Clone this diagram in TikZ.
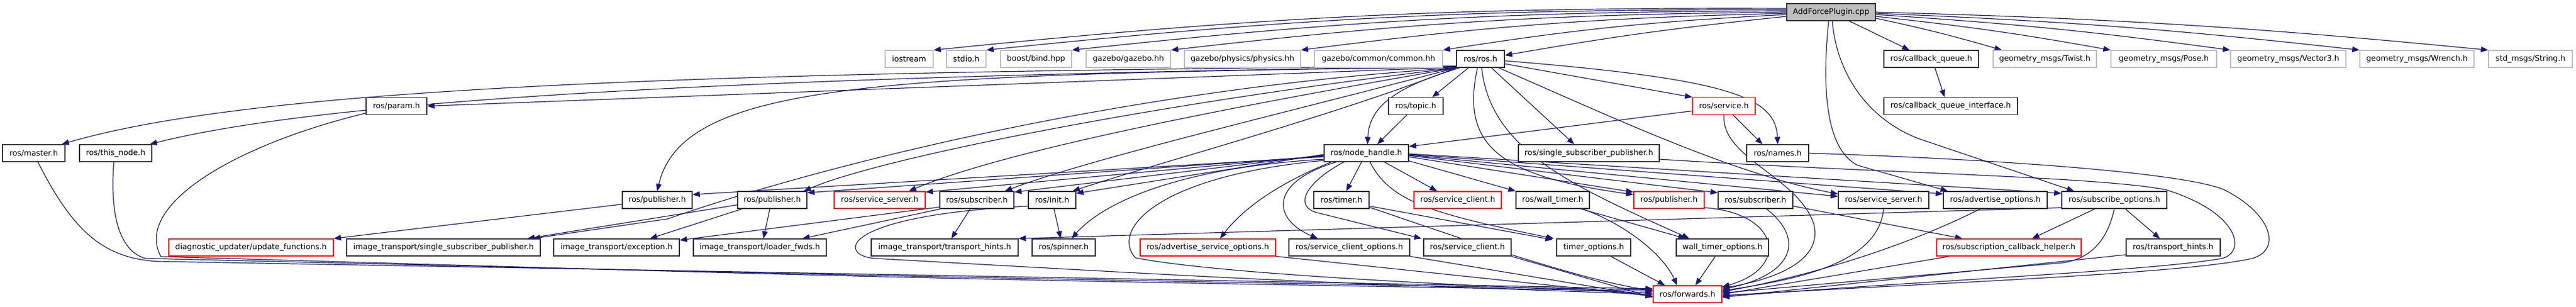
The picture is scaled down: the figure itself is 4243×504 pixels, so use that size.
\documentclass[tikz,border=0pt]{standalone}
\usepackage{fontspec}
\setmainfont{DejaVu Sans}
\usetikzlibrary{arrows.meta,calc,backgrounds}
\definecolor{edgecol}{HTML}{191970}
\begin{document}
\begin{tikzpicture}[x=0.5pt,y=-0.5pt,
  box/.style={draw=black!80, line width=0.65pt, fill=white, minimum height=14pt, inner sep=0pt, font=\fontsize{6.4pt}{7.5pt}\selectfont},
  redbox/.style={box, draw=red},
  graybox/.style={box, draw=black!25},
  mainbox/.style={box, fill=black!25, draw=black!80},
  wd/.style={minimum width=#1*0.5pt},
  dep/.style={draw=edgecol, line width=0.6pt, -{Triangle[length=6pt,width=4.6pt]}}]
\useasboundingbox (0,0) rectangle (4243,504);
% row 0
\node[mainbox,wd=146] (A) at (3016,20) {AddForcePlugin.cpp};
% row 1
\node[graybox,wd=79] (ios) at (1497.5,97) {iostream};
\node[graybox,wd=65] (stdio) at (1591.5,97) {stdio.h};
\node[graybox,wd=117] (boost) at (1706.5,97) {boost/bind.hpp};
\node[graybox,wd=139] (gzb) at (1858.5,97) {gazebo/gazebo.hh};
\node[graybox,wd=191] (phys) at (2046.5,97) {gazebo/physics/physics.hh};
\node[graybox,wd=211] (comm) at (2270.5,97) {gazebo/common/common.hh};
\node[box,wd=79] (rosh) at (2438.5,97) {ros/ros.h};
\node[box,wd=156] (cbq) at (3181,97) {ros/callback\_queue.h};
\node[graybox,wd=170] (twist) at (3368,97) {geometry\_msgs/Twist.h};
\node[graybox,wd=174] (pose) at (3564,97) {geometry\_msgs/Pose.h};
\node[graybox,wd=190] (vec) at (3769,97) {geometry\_msgs/Vector3.h};
\node[graybox,wd=188] (wrench) at (3981,97) {geometry\_msgs/Wrench.h};
\node[graybox,wd=138] (str) at (4168,97) {std\_msgs/String.h};
% row 2
\node[box,wd=100] (param) at (653,174.5) {ros/param.h};
\node[box,wd=90] (topic) at (2332,174.5) {ros/topic.h};
\node[redbox,wd=103] (srv) at (2839.5,174.5) {ros/service.h};
\node[box,wd=220] (cbqi) at (3213,174.5) {ros/callback\_queue\_interface.h};
% row 3
\node[box,wd=103] (master) at (55.5,252) {ros/master.h};
\node[box,wd=119] (thisn) at (190.5,252) {ros/this\_node.h};
\node[box,wd=139] (nh) at (2250.5,252) {ros/node\_handle.h};
\node[box,wd=232] (ssp) at (2617,252) {ros/single\_subscriber\_publisher.h};
\node[box,wd=102] (names) at (2928,252) {ros/names.h};
% row 4
\node[box,wd=115] (pubA) at (1082.5,329) {ros/publisher.h};
\node[box,wd=114] (pubB) at (1272,329) {ros/publisher.h};
\node[redbox,wd=150] (ssrvA) at (1449,329) {ros/service\_server.h};
\node[box,wd=122] (subA) at (1609,329) {ros/subscriber.h};
\node[box,wd=78] (init) at (1733,329) {ros/init.h};
\node[box,wd=91] (timer) at (2209.5,329) {ros/timer.h};
\node[redbox,wd=144] (sclA) at (2401,329) {ros/service\_client.h};
\node[box,wd=121] (wtimer) at (2557.5,329) {ros/wall\_timer.h};
\node[redbox,wd=116] (pubC) at (2749,329) {ros/publisher.h};
\node[box,wd=123] (subB) at (2891.5,329) {ros/subscriber.h};
\node[box,wd=149] (ssrvB) at (3102.5,329) {ros/service\_server.h};
\node[box,wd=171] (advopt) at (3286.5,329) {ros/advertise\_options.h};
\node[box,wd=173] (subopt) at (3482.5,329) {ros/subscribe\_options.h};
% row 5
\node[redbox,wd=271] (diag) at (413.5,407) {diagnostic\_updater/update\_functions.h};
\node[box,wd=319] (itssp) at (730.5,407) {image\_transport/single\_subscriber\_publisher.h};
\node[box,wd=207] (itexc) at (1015.5,407) {image\_transport/exception.h};
\node[box,wd=219] (itload) at (1251.5,407) {image\_transport/loader\_fwds.h};
\node[box,wd=242] (itth) at (1556,407) {image\_transport/transport\_hints.h};
\node[box,wd=104] (spinner) at (1752,407) {ros/spinner.h};
\node[redbox,wd=223] (advsrv) at (1989.5,407) {ros/advertise\_service\_options.h};
\node[box,wd=199] (scopt) at (2222.5,407) {ros/service\_client\_options.h};
\node[box,wd=144] (sclB) at (2417,407) {ros/service\_client.h};
\node[box,wd=122] (topt) at (2625,407) {timer\_options.h};
\node[box,wd=152] (wtopt) at (2837,407) {wall\_timer\_options.h};
\node[redbox,wd=238] (sch) at (3309,407) {ros/subscription\_callback\_helper.h};
\node[box,wd=155] (th) at (3579.5,407) {ros/transport\_hints.h};
% row 6
\node[redbox,wd=113] (fwd) at (2779.5,484) {ros/forwards.h};

\begin{scope}[on background layer]
% AddForcePlugin.cpp
\draw[dep] ($(A.west)+(0,-6)$) to[bend right=3] (ios.north east);
\draw[dep] ($(A.west)+(0,-4)$) to[bend right=3] (stdio.north east);
\draw[dep] ($(A.west)+(0,-2)$) to[bend right=3] (boost.north east);
\draw[dep] (A.west) to[bend right=3] (gzb.north east);
\draw[dep] ($(A.west)+(0,2)$) to[bend right=3] (phys.north east);
\draw[dep] ($(A.west)+(0,4)$) to[bend right=3] (comm.north east);
\draw[dep] ($(A.west)+(0,7)$) to[bend right=2] ($(rosh.east)+(0,-6)$);
\draw[dep] ($(A.south)+(30,0)$) -- ($(cbq.north)+(-36,0)$);
\draw[dep] ($(A.east)+(0,10)$) to[bend left=2] ($(twist.north west)+(15,0)$);
\draw[dep] ($(A.east)+(0,7)$) to[bend left=2] (pose.north west);
\draw[dep] ($(A.east)+(0,4)$) to[bend left=2] (vec.north west);
\draw[dep] ($(A.east)+(0,2)$) to[bend left=2] (wrench.north west);
\draw[dep] (A.east) to[bend left=2] (str.north west);
\draw[dep] ($(A.south)+(2,0)$) .. controls (3025,120) and (3075,195) .. (3160,228) -- ($(subopt.north west)+(21,0)$);
\draw[dep] ($(A.south)+(-4,0)$) .. controls (2998,170) and (3015,250) .. (3060,272) -- ($(advopt.north west)+(8,0)$);
% ros/ros.h
\draw[dep] ($(rosh.south west)+(0,-1)$) -- (param.east);
\draw[dep] ($(rosh.south west)+(0,-3)$) .. controls (1300,118) and (450,135) .. ($(master.north east)+(-6,0)$);
\draw[dep] ($(rosh.south west)+(0,-2)$) .. controls (1300,124) and (550,160) .. ($(thisn.north east)+(-4,0)$);
\draw[dep] ($(rosh.south west)+(0,-1)$) .. controls (1450,122) and (1125,135) .. (pubA.north);
\draw[dep] (rosh.south west) .. controls (1800,150) and (1300,290) .. (1100,360) -- ($(itssp.north east)+(-13,0)$);
\draw[dep] (rosh.south west) .. controls (1900,170) and (1450,260) .. ($(pubB.north east)+(-6,0)$);
\draw[dep] (rosh.south west) .. controls (2000,180) and (1650,250) .. ($(ssrvA.north)+(48,0)$);
\draw[dep] (rosh.south west) .. controls (2100,190) and (1800,260) .. ($(subA.north)+(46,0)$);
\draw[dep] (rosh.south west) .. controls (2200,190) and (1900,270) .. ($(init.north east)+(-6,0)$);
\draw[dep] ($(rosh.south west)+(6,0)$) .. controls (2310,140) and (2255,170) .. ($(nh.north)+(2,0)$);
\draw[dep] ($(rosh.south)+(-20,0)$) -- ($(topic.north)+(27,0)$);
\draw[dep] ($(rosh.east)+(0,8)$) -- (srv.north west);
\draw[dep] ($(rosh.east)+(0,3)$) .. controls (2850,130) and (2925,160) .. (names.north);
\draw[dep] ($(rosh.south east)+(-22,0)$) -- ($(ssp.north)+(-24,0)$);
\draw[dep] ($(rosh.south east)+(-10,0)$) .. controls (2650,190) and (2850,285) .. ($(ssrvB.west)+(0,-10)$);
\draw[dep] ($(rosh.south)+(-5,0)$) .. controls (2405,240) and (2470,290) .. ($(pubC.west)+(0,-9)$);
\draw[dep] ($(rosh.south)+(2,0)$) .. controls (2455,250) and (2600,310) .. ($(wtopt.north west)+(22,0)$);
% ros/node_handle.h
\draw[dep] ($(nh.west)+(0,6)$) -- ($(pubA.east)+(0,-9)$);
\draw[dep] ($(nh.west)+(0,5)$) -- ($(pubB.east)+(0,-12)$);
\draw[dep] ($(nh.west)+(0,4)$) -- ($(ssrvA.east)+(0,-13)$);
\draw[dep] ($(nh.west)+(0,3)$) -- ($(subA.east)+(0,-13)$);
\draw[dep] ($(nh.west)+(0,2)$) -- ($(init.east)+(0,-11)$);
\draw[dep] ($(nh.west)+(0,10)$) .. controls (1950,275) and (1820,330) .. ($(spinner.north)+(13,0)$);
\draw[dep] ($(nh.west)+(0,12)$) .. controls (1900,290) and (1830,380) .. (1870,424) .. controls (2000,450) and (2400,470) .. ($(fwd.west)+(0,-2)$);
\draw[dep] ($(nh.south west)+(12,0)$) .. controls (2110,300) and (2050,340) .. ($(advsrv.north)+(20,0)$);
\draw[dep] ($(nh.south)+(-50,0)$) .. controls (2090,300) and (2095,360) .. ($(scopt.north)+(-52,0)$);
\draw[dep] ($(nh.south)+(-37,0)$) .. controls (2150,300) and (2130,340) .. (2170,350) -- ($(sclB.north west)+(-3,0)$);
\draw[dep] ($(nh.south)+(-8,0)$) -- ($(timer.north)+(8,0)$);
\draw[dep] ($(nh.south)+(30,0)$) -- ($(sclA.north)+(-34,0)$);
\draw[dep] ($(nh.south)+(6,0)$) .. controls (2290,330) and (2350,350) .. ($(topt.north west)+(-4,0)$);
\draw[dep] ($(nh.south east)+(0,-2)$) -- (wtimer.north west);
\draw[dep] ($(nh.east)+(0,6)$) -- ($(pubC.west)+(0,-13)$);
\draw[dep] ($(nh.east)+(0,4)$) -- ($(subB.west)+(0,-12)$);
\draw[dep] ($(nh.east)+(0,3)$) -- ($(ssrvB.west)+(0,-6)$);
\draw[dep] ($(nh.east)+(0,2)$) -- ($(advopt.west)+(0,-10)$);
\draw[dep] ($(nh.east)+(0,1)$) -- ($(subopt.west)+(0,-11)$);
% topic, service, callback queue
\draw[dep] ($(topic.south)+(-15,0)$) -- ($(nh.north)+(18,0)$);
\draw[dep] ($(srv.west)+(0,8)$) -- ($(nh.east)+(0,-11)$);
\draw[dep] ($(srv.south)+(15,0)$) -- ($(names.north)+(-25,0)$);
\draw[dep] (srv.south) .. controls (2835,260) and (2960,290) .. (2987,367) .. controls (3005,430) and (2920,460) .. ($(fwd.east)+(0,-10)$);
\draw[dep] ($(cbq.south)+(6,0)$) -- ($(cbqi.north)+(-10,0)$);
% loops on the right
\draw[dep] (names.east) .. controls (3300,262) and (3600,285) .. (3663,312) .. controls (3740,350) and (3760,410) .. (3710,425) .. controls (3600,450) and (3200,465) .. ($(fwd.east)+(0,2)$);
\draw[dep] ($(ssp.east)+(0,10)$) .. controls (3100,285) and (3450,290) .. (3567,312) .. controls (3690,350) and (3700,415) .. (3660,425) .. controls (3550,445) and (3200,460) .. ($(fwd.east)+(0,4)$);
% row 4 to row 5
\draw[dep] ($(pubA.west)+(0,7)$) -- (diag.north east);
\draw[dep] ($(pubB.west)+(0,8)$) -- ($(itssp.north east)+(-22,0)$);
\draw[dep] ($(pubB.south west)+(8,0)$) -- ($(itexc.north)+(55,0)$);
\draw[dep] ($(pubB.south)+(-4,0)$) -- ($(itload.north)+(6,0)$);
\draw[dep] ($(subA.south west)+(0,-3)$) -- ($(itexc.east)+(0,-12)$);
\draw[dep] ($(subA.south west)+(2,0)$) -- ($(itload.north east)+(-40,0)$);
\draw[dep] ($(subA.south)+(-11,0)$) -- ($(itth.north)+(11,0)$);
\draw[dep] ($(init.south)+(3,0)$) -- ($(spinner.north)+(-5,0)$);
\draw[dep] ($(init.west)+(0,10)$) .. controls (1380,355) and (1380,420) .. (1440,425) .. controls (2100,462) .. (fwd.west);
\draw[dep] ($(timer.east)+(0,10)$) -- ($(topt.north west)+(-6,2)$);
\draw[dep] ($(timer.east)+(0,12)$) .. controls (2400,390) and (2600,460) .. ($(fwd.west)+(0,-6)$);
\draw[dep] ($(wtimer.south east)+(-15,0)$) -- ($(wtopt.north west)+(16,0)$);
\draw[dep] ($(wtimer.south east)+(-12,0)$) .. controls (2680,370) and (2740,420) .. ($(fwd.north west)+(40,0)$);
\draw[dep] ($(topt.south)+(28,0)$) -- ($(fwd.north west)+(20,0)$);
\draw[dep] ($(wtopt.south west)+(65,0)$) -- ($(fwd.north)+(13,0)$);
\draw[dep] ($(pubC.south east)+(0,-2)$) .. controls (2930,350) and (2950,440) .. ($(fwd.east)+(0,-12)$);
\draw[dep] ($(subB.south)+(18,0)$) .. controls (2970,390) and (2960,450) .. ($(fwd.east)+(0,-8)$);
\draw[dep] ($(subB.east)+(0,10)$) -- ($(sch.north west)+(43,0)$);
\draw[dep] (ssrvB.south) .. controls (3095,420) and (3000,455) .. ($(fwd.east)+(0,-6)$);
\draw[dep] ($(advopt.south)+(-25,0)$) .. controls (3150,400) and (3000,450) .. ($(fwd.east)+(0,-4)$);
\draw[dep] (subopt.south) .. controls (3470,400) and (3440,425) .. (3400,432) -- ($(fwd.east)+(0,-2)$);
\draw[dep] ($(subopt.south)+(-32,0)$) -- ($(sch.north)+(38,0)$);
\draw[dep] ($(subopt.south east)+(-69,0)$) -- ($(th.north)+(-22,0)$);
\draw[dep] ($(subopt.south west)+(0,-2)$) -- (itth.north east);
\draw[dep] ($(sch.south west)+(22,0)$) -- (fwd.east);
\draw[dep] ($(th.west)+(0,12)$) -- ($(fwd.east)+(0,5)$);
% left side to ros/forwards.h
\draw[dep] ($(master.south)+(7,0)$) .. controls (120,380) and (170,425) .. (260,430) .. controls (1500,452) .. ($(fwd.west)+(0,-9)$);
\draw[dep] ($(thisn.south)+(-3,0)$) .. controls (180,360) and (200,415) .. (240,425) .. controls (1500,455) .. ($(fwd.west)+(0,-7)$);
\draw[dep] ($(param.south west)+(0,-3)$) .. controls (380,240) and (220,340) .. (265,422) .. controls (1500,458) .. ($(fwd.west)+(0,-5)$);
\draw[dep] (advsrv.south east) -- ($(fwd.west)+(0,3)$);
\draw[dep] (scopt.south east) -- ($(fwd.west)+(0,4)$);
\draw[dep] (sclB.south east) -- ($(fwd.west)+(0,5)$);
\end{scope}
\end{tikzpicture}
\end{document}
